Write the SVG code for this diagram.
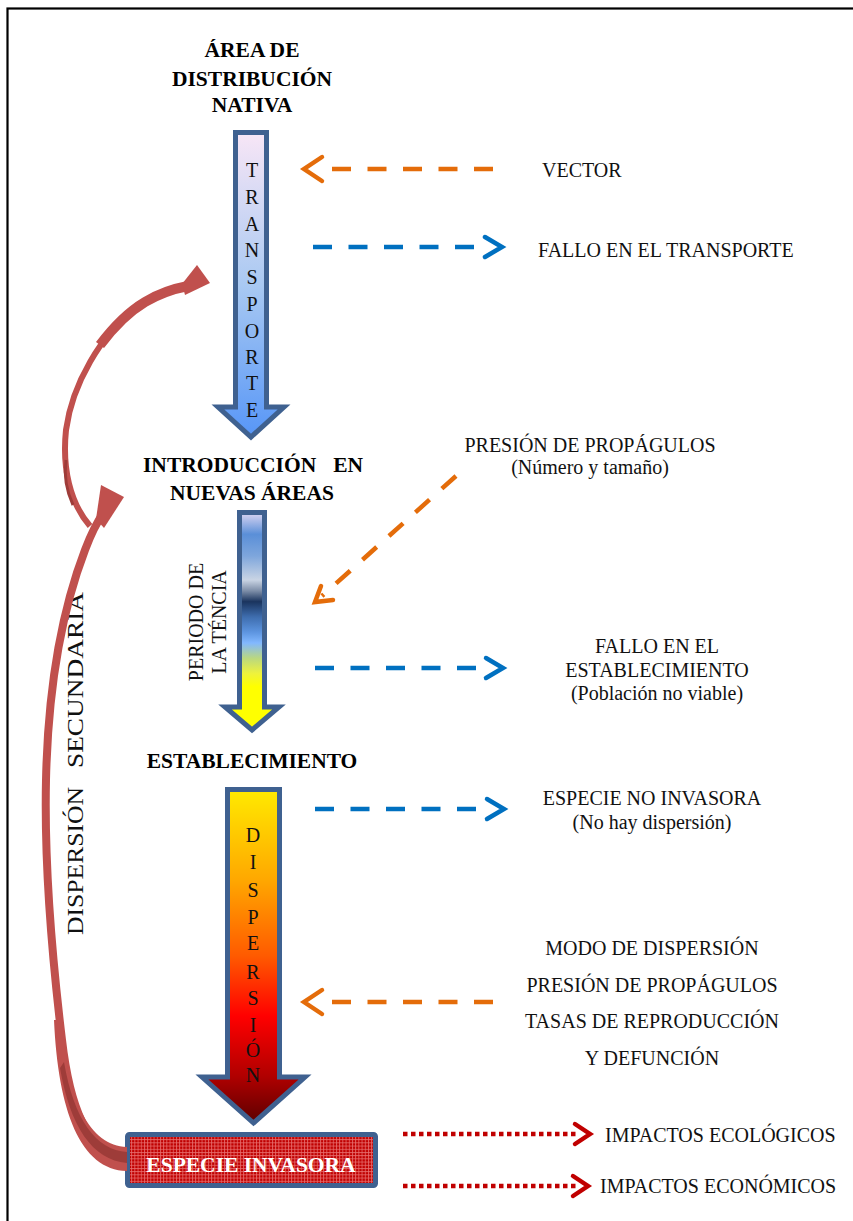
<svg xmlns="http://www.w3.org/2000/svg" width="853" height="1221" viewBox="0 0 853 1221">
  <style>
    .bold { font-family: "Liberation Serif", "Times New Roman", serif; font-weight: bold; font-size: 21.5px; fill: #000; }
    .txt { font-family: "Liberation Serif", "Times New Roman", serif; font-size: 20px; fill: #111; }
    .mid { text-anchor: middle; }
    .letter { font-family: "Liberation Serif", "Times New Roman", serif; font-size: 20px; fill: #111; text-anchor: middle; }
    .shaft { stroke: #3F6190; stroke-width: 5; stroke-linejoin: miter; }
    .orange { stroke: #E46C0A; stroke-width: 4.5; fill: none; }
    .blue { stroke: #0070C0; stroke-width: 4.5; fill: none; }
    .dash { stroke-dasharray: 19 16.5; }
    .head { stroke-linecap: round; stroke-linejoin: miter; }
    .dots { stroke: #C00000; stroke-width: 4.5; fill: none; stroke-dasharray: 4.5 3.5; }
    .redhead { stroke: #C00000; stroke-width: 4.5; fill: none; stroke-linecap: round; }
    .curve { fill: none; stroke: #C0504D; stroke-linecap: butt; }
  </style>
  <defs>
    <linearGradient id="gTransport" x1="0" y1="0" x2="0" y2="1">
      <stop offset="0" stop-color="#F8E6F6"/>
      <stop offset="0.5" stop-color="#A9C9F2"/>
      <stop offset="1" stop-color="#5796F7"/>
    </linearGradient>
    <linearGradient id="gLatency" x1="0" y1="0" x2="0" y2="1">
      <stop offset="0" stop-color="#DCD6F2"/>
      <stop offset="0.1" stop-color="#5A8FD8"/>
      <stop offset="0.2" stop-color="#7EA6DC"/>
      <stop offset="0.31" stop-color="#C9D4E4"/>
      <stop offset="0.36" stop-color="#7D8EA8"/>
      <stop offset="0.41" stop-color="#1A345E"/>
      <stop offset="0.48" stop-color="#3E6DAE"/>
      <stop offset="0.55" stop-color="#5D95E0"/>
      <stop offset="0.6" stop-color="#82B8FF"/>
      <stop offset="0.67" stop-color="#BAD880"/>
      <stop offset="0.74" stop-color="#EEF23C"/>
      <stop offset="0.8" stop-color="#FFFF00"/>
      <stop offset="1" stop-color="#FFFF00"/>
    </linearGradient>
    <linearGradient id="gDispersion" x1="0" y1="0" x2="0" y2="1">
      <stop offset="0" stop-color="#FFEA00"/>
      <stop offset="0.27" stop-color="#FFA800"/>
      <stop offset="0.5" stop-color="#FF5A00"/>
      <stop offset="0.68" stop-color="#FF0000"/>
      <stop offset="0.86" stop-color="#B00000"/>
      <stop offset="1" stop-color="#5C0000"/>
    </linearGradient>
    <pattern id="grid" width="3.2" height="3.2" patternUnits="userSpaceOnUse">
      <rect width="3.2" height="3.2" fill="#C00000"/>
      <path d="M0,0.5 H3.2 M0.5,0 V3.2" stroke="#E87070" stroke-width="0.8"/>
    </pattern>
  </defs>

  <rect width="853" height="1221" fill="#FFFFFF"/>
  <!-- page frame -->
  <rect x="7.5" y="8.5" width="900" height="1300" fill="none" stroke="#000" stroke-width="2.2"/>

  <!-- stage 1 title -->
  <g id="native-area">
    <text class="bold mid" x="252" y="57">ÁREA DE</text>
    <text class="bold mid" x="252" y="86">DISTRIBUCIÓN</text>
    <text class="bold mid" x="252" y="112">NATIVA</text>
  </g>

  <!-- transport arrow -->
  <g id="transport">
    <path class="shaft" fill="url(#gTransport)" d="M235.5,132.5 H266.5 V407 H284 L251,437 L218,407 H235.5 Z"/>
    <text class="letter" x="252" y="177">T</text>
    <text class="letter" x="252" y="204">R</text>
    <text class="letter" x="252" y="231">A</text>
    <text class="letter" x="252" y="257">N</text>
    <text class="letter" x="252" y="284">S</text>
    <text class="letter" x="252" y="311">P</text>
    <text class="letter" x="252" y="338">O</text>
    <text class="letter" x="252" y="364">R</text>
    <text class="letter" x="252" y="390">T</text>
    <text class="letter" x="252" y="417">E</text>
  </g>

  <!-- introduction -->
  <g id="introduction">
    <text class="bold" x="143" y="472">INTRODUCCIÓN</text>
    <text class="bold" x="363" y="472" text-anchor="end">EN</text>
    <text class="bold mid" x="252" y="500">NUEVAS ÁREAS</text>
  </g>

  <!-- latency arrow -->
  <g id="latency">
    <path class="shaft" fill="url(#gLatency)" d="M239.5,512.5 H264.5 V707 H279 L252,730 L225,707 H239.5 Z"/>
    <text class="txt mid" transform="translate(203,622) rotate(-90)">PERIODO DE</text>
    <text class="txt mid" transform="translate(226,622) rotate(-90)">LA TÉNCIA</text>
  </g>

  <!-- establishment -->
  <g id="establishment">
    <text class="bold mid" x="252" y="768">ESTABLECIMIENTO</text>
  </g>

  <!-- dispersion arrow -->
  <g id="dispersion">
    <path class="shaft" fill="url(#gDispersion)" d="M227.5,789.5 H279.5 V1077 H305 L253.5,1123 L202,1077 H227.5 Z"/>
    <text class="letter" x="253" y="842">D</text>
    <text class="letter" x="253" y="869">I</text>
    <text class="letter" x="253" y="897">S</text>
    <text class="letter" x="253" y="924">P</text>
    <text class="letter" x="253" y="950">E</text>
    <text class="letter" x="253" y="979">R</text>
    <text class="letter" x="253" y="1005">S</text>
    <text class="letter" x="253" y="1032">I</text>
    <text class="letter" x="253" y="1057">Ó</text>
    <text class="letter" x="253" y="1082">N</text>
  </g>

  <!-- invasive species box -->
  <g id="invasive-species">
    <rect x="127.5" y="1134.5" width="248" height="51" rx="2" fill="url(#grid)" stroke="#3F6190" stroke-width="5"/>
    <text class="bold mid" x="251" y="1172" style="fill:#FFFFFF">ESPECIE INVASORA</text>
  </g>

  <!-- right-hand labels -->
  <g id="label-vector"><text class="txt" x="542" y="177">VECTOR</text></g>
  <g id="label-transport-failure"><text class="txt" x="538" y="257">FALLO EN EL TRANSPORTE</text></g>
  <g id="label-propagule-pressure">
    <text class="txt mid" x="590" y="452">PRESIÓN DE PROPÁGULOS</text>
    <text class="txt mid" x="590" y="474">(Número y tamaño)</text>
  </g>
  <g id="label-establishment-failure">
    <text class="txt mid" x="657" y="653">FALLO EN EL</text>
    <text class="txt mid" x="657" y="677">ESTABLECIMIENTO</text>
    <text class="txt mid" x="657" y="700">(Población no viable)</text>
  </g>
  <g id="label-non-invasive">
    <text class="txt mid" x="652" y="805">ESPECIE NO INVASORA</text>
    <text class="txt mid" x="652" y="829">(No hay dispersión)</text>
  </g>
  <g id="label-dispersion-factors">
    <text class="txt mid" x="652" y="955">MODO DE DISPERSIÓN</text>
    <text class="txt mid" x="652" y="992">PRESIÓN DE PROPÁGULOS</text>
    <text class="txt mid" x="652" y="1028">TASAS DE REPRODUCCIÓN</text>
    <text class="txt mid" x="652" y="1065">Y DEFUNCIÓN</text>
  </g>
  <g id="label-ecological"><text class="txt" x="605" y="1142">IMPACTOS ECOLÓGICOS</text></g>
  <g id="label-economic"><text class="txt" x="600" y="1193">IMPACTOS ECONÓMICOS</text></g>
  <g id="label-secondary-dispersion">
    <text class="txt" style="font-size:23px" transform="translate(83,0) rotate(-90)"><tspan x="-935" textLength="148" lengthAdjust="spacingAndGlyphs">DISPERSIÓN</tspan><tspan x="-768" textLength="176" lengthAdjust="spacingAndGlyphs">SECUNDARIA</tspan></text>
  </g>

  <!-- connectors -->
  <g id="connectors">
    <!-- vector -->
    <line class="orange dash" x1="332" y1="169" x2="493" y2="169"/>
    <polyline class="orange head" points="322,157 304,169 322,181"/>
    <!-- transport failure -->
    <line class="blue dash" x1="313" y1="247" x2="476" y2="247"/>
    <polyline class="blue head" points="485,237 502,247 485,257"/>
    <!-- propagule pressure -->
    <line class="orange dash" x1="456" y1="476" x2="322" y2="596"/>
    <polyline class="orange head" points="321,586 315,602 333,600"/>
    <!-- establishment failure -->
    <line class="blue dash" x1="315" y1="668" x2="477" y2="668"/>
    <polyline class="blue head" points="486,658 503,668 486,678"/>
    <!-- non-invasive -->
    <line class="blue dash" x1="315" y1="809" x2="477" y2="809"/>
    <polyline class="blue head" points="487,799 504,809 487,819"/>
    <!-- dispersion factors -->
    <line class="orange dash" x1="332" y1="1002" x2="493" y2="1002"/>
    <polyline class="orange head" points="322,990 304,1002 322,1014"/>
    <!-- impacts -->
    <line class="dots" x1="403" y1="1134" x2="578" y2="1134"/>
    <polyline class="redhead" points="575,1124 590,1134 575,1144"/>
    <line class="dots" x1="403" y1="1186" x2="576" y2="1186"/>
    <polyline class="redhead" points="573,1176 588,1186 573,1196"/>

    <!-- secondary dispersion: back to introduction -->
    <path class="curve" stroke-width="8" d="M120,1160 C88,1148 70,1110 62,1040 C53,965 44,870 46,780 C48,690 62,610 85,550 C91,534 97,522 104,512"/>
    <path d="M62.5,1020 C66,1100 90,1146 127,1147 L127,1171 C80,1170 58,1110 54,1020 Z" fill="#C0504D"/>
    <path d="M64,1062 C74,1120 96,1150 127,1152 L127,1163 C92,1160 70,1126 60,1068 Z" fill="#9E3C39"/>
    <polygon points="101,485 124,497 104,528 96,519" fill="#C0504D"/>
    <!-- secondary dispersion: back to transport -->
    <path class="curve" stroke-width="6" d="M90,526 C70,503 62,468 66,430 C72,385 100,335 140,303"/>
    <path class="curve" stroke-width="10" d="M100,345 C115,325 130,311 145,302 C160,293 172,289 188,286"/>
    <path d="M73,505 C66,490 64,475 66,460" fill="none" stroke="#9E3C39" stroke-width="3"/>
    <polygon points="197,265 210,283 185,295 182,284" fill="#C0504D"/>
  </g>
</svg>
